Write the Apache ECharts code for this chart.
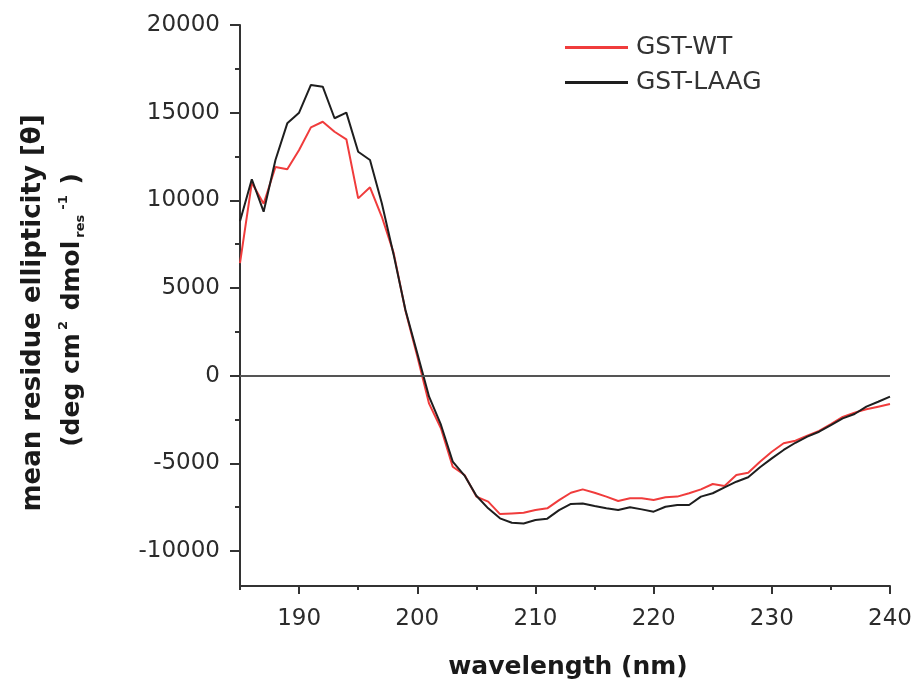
<!DOCTYPE html>
<html>
<head>
<meta charset="utf-8">
<script src="https://cdn.jsdelivr.net/npm/echarts@6/dist/echarts.min.js"></script>
<style>html,body{margin:0;padding:0;background:#fff}#c{width:921px;height:689px}</style>
</head>
<body>
<div id="c"></div>
<script>
const wavelength = [185,186,187,188,189,190,191,192,193,194,195,196,197,198,199,200,201,202,203,204,205,206,207,208,209,210,211,212,213,214,215,216,217,218,219,220,221,222,223,224,225,226,227,228,229,230,231,232,233,234,235,236,237,238,239,240];
const gstWT = [6420,11000,9800,11900,11770,12870,14160,14480,13910,13480,10110,10740,9060,7000,3700,1100,-1600,-3000,-5200,-5670,-6900,-7190,-7900,-7860,-7820,-7670,-7570,-7100,-6680,-6490,-6680,-6900,-7150,-7000,-7000,-7100,-6940,-6900,-6710,-6490,-6180,-6300,-5670,-5540,-4910,-4340,-3860,-3710,-3420,-3150,-2760,-2350,-2110,-1920,-1770,-1620];
const gstLAAG = [8800,11200,9350,12300,14390,15000,16580,16480,14680,15000,12770,12300,9830,6900,3740,1270,-1200,-2800,-4900,-5700,-6850,-7570,-8140,-8390,-8430,-8240,-8160,-7670,-7320,-7290,-7440,-7570,-7670,-7510,-7630,-7760,-7480,-7380,-7380,-6900,-6710,-6370,-6050,-5800,-5230,-4720,-4240,-3830,-3480,-3200,-2820,-2440,-2190,-1770,-1490,-1200];
const xMajorTicks = [190,200,210,220,230,240];
const xMinorTicks = [185,195,205,215,225,235];
const yMajorTicks = [-10000,-5000,0,5000,10000,15000,20000];
const yMinorTicks = [-7500,-2500,2500,7500,12500,17500];
const seriesNames = ['GST-WT','GST-LAAG'];

const axisColor = '#333';
const tickFont = {fontFamily:'DejaVu Sans', fontSize:23, color:'#2b2b2b'};
const chart = echarts.init(document.getElementById('c'), null, {renderer:'canvas'});
const pairs = (ys) => wavelength.map((x,i)=>[x, ys[i]]);
chart.setOption({
  animation:false,
  backgroundColor:'#fff',
  grid:{left:240, right:31, top:25, bottom:103},
  legend:{
    orient:'vertical', left:560, top:30, icon:'rect', itemWidth:63, itemHeight:3, itemGap:10,
    data:seriesNames,
    textStyle:{fontFamily:'DejaVu Sans', fontSize:25, color:'#333', lineHeight:25, padding:[0,0,0,3]}
  },
  xAxis:[{
    type:'value', min:185, max:240,
    axisLine:{show:true, onZero:false, lineStyle:{color:axisColor, width:2}},
    axisTick:{show:true, length:8, customValues:xMajorTicks, lineStyle:{color:axisColor, width:2}},
    axisLabel:{customValues:xMajorTicks, margin:22, formatter:(v)=>String(v), ...tickFont},
    splitLine:{show:false}
  },{
    type:'value', min:185, max:240, position:'bottom',
    axisLine:{show:false, onZero:false},
    axisTick:{show:true, length:4, customValues:xMinorTicks, lineStyle:{color:axisColor, width:2}},
    axisLabel:{show:false},
    splitLine:{show:false}
  }],
  yAxis:[{
    type:'value', min:-12000, max:20000,
    axisLine:{show:true, onZero:false, lineStyle:{color:axisColor, width:2}},
    axisTick:{show:true, length:10, customValues:yMajorTicks, lineStyle:{color:axisColor, width:2}},
    axisLabel:{customValues:yMajorTicks, margin:20, formatter:(v)=>String(v), ...tickFont},
    splitLine:{show:false}
  },{
    type:'value', min:-12000, max:20000, position:'left',
    axisLine:{show:false, onZero:false},
    axisTick:{show:true, length:5, customValues:yMinorTicks, lineStyle:{color:axisColor, width:2}},
    axisLabel:{show:false},
    splitLine:{show:false}
  }],
  series:[{
    name:seriesNames[0], type:'line', data:pairs(gstWT), showSymbol:false, symbol:'none',
    color:'#f03c3c', lineStyle:{color:'#f03c3c', width:2},
    markLine:{silent:true, symbol:['none','none'], label:{show:false},
      lineStyle:{color:'#555', width:2, type:'solid'}, data:[{yAxis:0}]}
  },{
    name:seriesNames[1], type:'line', data:pairs(gstLAAG), showSymbol:false, symbol:'none',
    color:'#1e1e1e', lineStyle:{color:'#1e1e1e', width:2}
  }],
  graphic:[{
    type:'text', x:33, y:313, rotation:Math.PI/2,
    style:{text:'mean residue ellipticity [θ]', fontFamily:'DejaVu Sans', fontWeight:'bold', fontSize:26,
      fill:'#1a1a1a', align:'center', verticalAlign:'middle'}
  },{
    type:'text', x:72, y:310, rotation:Math.PI/2,
    style:{text:'(deg cm{sup|2} dmol{sub|res}{sup|-1} )', fontFamily:'DejaVu Sans', fontWeight:'bold', fontSize:25,
      fill:'#1a1a1a', align:'center', verticalAlign:'middle',
      rich:{
        sup:{fontFamily:'DejaVu Sans', fontSize:13, fontWeight:'bold', fill:'#1a1a1a', verticalAlign:'top', lineHeight:30, padding:[0,2,0,3]},
        sub:{fontFamily:'DejaVu Sans', fontSize:13, fontWeight:'bold', fill:'#1a1a1a', verticalAlign:'bottom', lineHeight:30, padding:[0,2,0,3]}
      }}
  },{
    type:'text', x:568, y:667,
    style:{text:'wavelength (nm)', fontFamily:'DejaVu Sans', fontWeight:'bold', fontSize:25,
      fill:'#1a1a1a', align:'center', verticalAlign:'middle'}
  }]
});
</script>
</body>
</html>
